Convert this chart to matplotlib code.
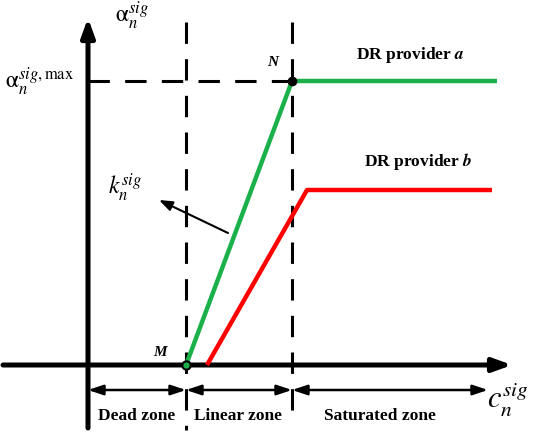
import matplotlib.pyplot as plt

plt.rcParams['font.family'] = ['Liberation Serif', 'DejaVu Serif']
plt.rcParams['mathtext.fontset'] = 'stix'

# drawing coordinates (pixel-like, y grows downward)
x_axis_y = 365
y_axis_x = 88
x_dead = 186      # M, end of dead zone
x_sat = 292       # N, start of saturated zone
y_max = 81        # alpha max level

green_x = [186, 292, 497]
green_y = [365, 81, 81]
red_x = [207, 307, 492]
red_y = [365, 190, 190]

zone_names = ['Dead zone', 'Linear zone', 'Saturated zone']
zone_edges = [88, 186, 292, 488]
zone_label_x = [137, 238, 380]

fig = plt.figure(figsize=(5.33, 4.32), dpi=100)
ax = fig.add_axes([0, 0, 1, 1])
ax.set_xlim(0, 533)
ax.set_ylim(432, 0)
ax.axis('off')

# axes with arrows
head = '-|>,head_length=1.1,head_width=0.4'
ax.annotate('', xy=(512, x_axis_y), xytext=(3, x_axis_y),
            arrowprops=dict(arrowstyle=head, lw=3.6, color='black', shrinkA=0, shrinkB=0))
ax.annotate('', xy=(y_axis_x, 18), xytext=(y_axis_x, 428),
            arrowprops=dict(arrowstyle=head, lw=3.6, color='black', shrinkA=0, shrinkB=0))

# dashed guide lines
ax.plot([x_dead, x_dead], [22, 430], color='black', lw=2.2, dashes=(7, 5))
ax.plot([x_sat, x_sat], [22, 420], color='black', lw=2.2, dashes=(7, 5))
ax.plot([y_axis_x, x_sat], [y_max, y_max], color='black', lw=2.2, dashes=(7, 5))

# provider curves
ax.plot(red_x, red_y, color='#ff0000', lw=3.2, solid_capstyle='butt', zorder=3)
ax.plot(green_x, green_y, color='#1ab14a', lw=3.2, solid_capstyle='butt', zorder=4)

ax.plot(x_dead, x_axis_y, 'o', ms=6, mfc='#1ab14a', mec='black', mew=1.5, zorder=5)
ax.plot(x_sat, y_max, 'o', ms=6, mfc='black', mec='black', zorder=5)

# zone double arrows
for i in range(3):
    ax.annotate('', xy=(zone_edges[i + 1], 390), xytext=(zone_edges[i], 390),
                arrowprops=dict(arrowstyle='<|-|>,head_length=0.9,head_width=0.3', lw=1.8,
                                color='black', shrinkA=0, shrinkB=0))
    ax.text(zone_label_x[i], 416, zone_names[i],
            ha='center', va='center', fontsize=12.5, fontweight='bold')

# slope annotation
ax.annotate('', xy=(159, 200), xytext=(228, 233),
            arrowprops=dict(arrowstyle='-|>,head_length=0.8,head_width=0.3', lw=1.5, color='black',
                            shrinkA=0, shrinkB=0))

ax.text(125, 188, r'$k_n^{sig}$', fontsize=17, ha='center', va='center')
ax.text(132, 16, r'$\mathrm{\alpha}_n^{sig}$', fontsize=17, ha='center', va='center')
ax.text(40, 82, r'$\mathrm{\alpha}_n^{sig,\mathrm{max}}$', fontsize=17, ha='center', va='center')
ax.text(508, 400, r'$c_n^{sig}$', fontsize=22, ha='center', va='center')

ax.text(160, 352, 'M', fontsize=11, fontweight='bold', fontstyle='italic', ha='center', va='center')
ax.text(273, 63, 'N', fontsize=11, fontweight='bold', fontstyle='italic', ha='center', va='center')
ax.text(410, 55, 'DR provider $\\boldsymbol{a}$', fontsize=12.5, fontweight='bold', ha='center', va='center')
ax.text(418, 162, 'DR provider $\\boldsymbol{b}$', fontsize=12.5, fontweight='bold', ha='center', va='center')

fig.savefig('out.png', dpi=100)
